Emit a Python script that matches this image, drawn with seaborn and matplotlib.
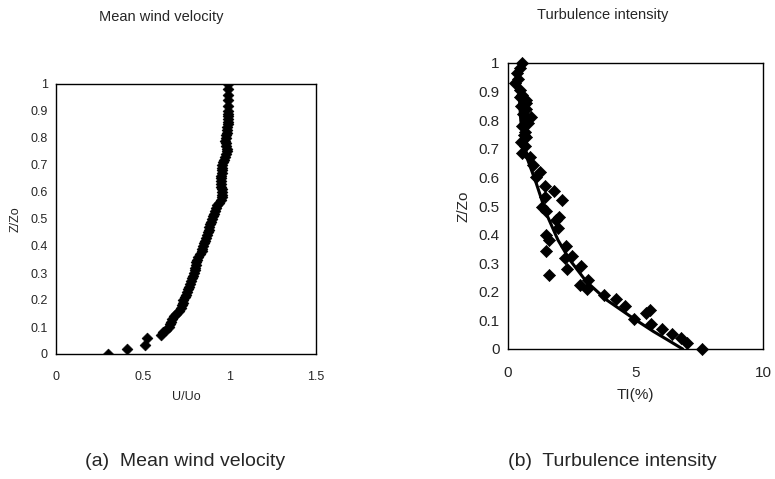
import pandas as pd
import numpy as np
import matplotlib
matplotlib.use("Agg")
import matplotlib.pyplot as plt
import seaborn as sns

# Mean wind velocity profile (U/Uo vs Z/Zo)
u_ratio = [0.30, 0.41, 0.515, 0.525,
           0.605, 0.62, 0.635, 0.65, 0.66, 0.665, 0.67, 0.68, 0.695, 0.71,
           0.72, 0.725, 0.73, 0.735, 0.745, 0.75, 0.755, 0.76, 0.765, 0.775,
           0.78, 0.785, 0.79, 0.795, 0.80, 0.80, 0.805, 0.81, 0.815, 0.82,
           0.83, 0.84, 0.845, 0.85, 0.855, 0.86, 0.865, 0.87, 0.875, 0.88,
           0.885, 0.89, 0.895, 0.90, 0.905, 0.91, 0.92, 0.925, 0.93, 0.94,
           0.95, 0.96, 0.955, 0.955, 0.955, 0.95, 0.95, 0.95, 0.95, 0.95,
           0.955, 0.955, 0.955, 0.96, 0.965, 0.97, 0.975, 0.98, 0.985, 0.985,
           0.98, 0.98, 0.975, 0.98, 0.98, 0.985, 0.985, 0.985, 0.99, 0.99,
           0.99, 0.995, 0.995, 0.995, 0.995, 0.995, 0.995, 0.995, 0.995]
z_u = [0.0, 0.02, 0.035, 0.06,
       0.07, 0.08, 0.09, 0.10, 0.11, 0.12, 0.13, 0.14, 0.15, 0.16,
       0.17, 0.18, 0.19, 0.20, 0.21, 0.22, 0.23, 0.24, 0.25, 0.26,
       0.27, 0.28, 0.29, 0.30, 0.31, 0.32, 0.33, 0.34, 0.35, 0.36,
       0.37, 0.38, 0.39, 0.40, 0.41, 0.42, 0.43, 0.44, 0.45, 0.46,
       0.47, 0.48, 0.49, 0.50, 0.51, 0.52, 0.53, 0.54, 0.55, 0.56,
       0.57, 0.58, 0.59, 0.60, 0.61, 0.62, 0.63, 0.64, 0.65, 0.66,
       0.67, 0.68, 0.69, 0.70, 0.71, 0.72, 0.73, 0.74, 0.75, 0.76,
       0.77, 0.78, 0.79, 0.80, 0.81, 0.82, 0.83, 0.84, 0.85, 0.86,
       0.87, 0.88, 0.89, 0.90, 0.92, 0.94, 0.96, 0.98, 1.00]

# Turbulence intensity measurements (TI % vs Z/Zo)
ti_meas = [7.6, 7.02, 6.77, 6.44, 6.04, 5.62, 5.58, 5.42, 4.94, 4.58,
           4.25, 3.76, 3.14, 3.10, 2.81, 2.85, 2.52, 2.25, 2.29, 2.33,
           1.61, 1.50, 1.59, 1.48, 1.96, 1.90, 2.00, 2.12, 1.79, 1.50,
           1.35, 1.46, 1.44, 1.24, 1.08, 0.98, 0.85, 0.56, 0.52, 0.72,
           0.65, 0.56, 0.92, 0.72, 0.72, 0.52, 0.69, 0.56, 0.46, 0.26,
           0.39, 0.35, 0.46, 0.56, 0.60, 0.80, 0.70, 0.62, 0.48, 0.66]
z_ti = [0.0, 0.02, 0.038, 0.053, 0.07, 0.088, 0.137, 0.126, 0.105, 0.15,
        0.174, 0.19, 0.242, 0.209, 0.224, 0.29, 0.326, 0.317, 0.36, 0.279,
        0.259, 0.344, 0.381, 0.399, 0.422, 0.451, 0.463, 0.521, 0.553, 0.484,
        0.498, 0.53, 0.57, 0.62, 0.60, 0.643, 0.67, 0.686, 0.724, 0.742,
        0.76, 0.78, 0.81, 0.80, 0.84, 0.849, 0.872, 0.887, 0.905, 0.93,
        0.945, 0.965, 0.984, 1.0, 0.82, 0.79, 0.86, 0.75, 0.88, 0.71]

# Fitted turbulence intensity curve
ti_fit = [6.85, 6.2, 5.69, 4.9, 3.86, 3.07, 2.42, 1.96, 1.50, 1.11, 0.78,
          0.59, 0.50, 0.46, 0.43, 0.45, 0.50]
z_fit = [0.0, 0.035, 0.062, 0.108, 0.172, 0.236, 0.312, 0.381, 0.474, 0.579,
         0.66, 0.742, 0.80, 0.858, 0.94, 0.97, 1.0]

df_u = pd.DataFrame({"U/Uo": u_ratio, "Z/Zo": z_u})
df_ti = pd.DataFrame({"TI(%)": ti_meas, "Z/Zo": z_ti})
df_fit = pd.DataFrame({"TI(%)": ti_fit, "Z/Zo": z_fit})

sns.set_style("white")
plt.rcParams['font.family'] = ['Liberation Sans', 'DejaVu Sans']

fig = plt.figure(figsize=(7.75, 4.79), dpi=100)
ax1 = fig.add_axes([56 / 775, (479 - 354) / 479, 260 / 775, 270 / 479])
ax2 = fig.add_axes([508 / 775, (479 - 349) / 479, 255 / 775, 286 / 479])

sns.scatterplot(data=df_u, x="U/Uo", y="Z/Zo", ax=ax1, marker="D", s=30,
                color="black", edgecolor="black", linewidth=0.5, zorder=3)
sns.lineplot(data=df_fit, x="TI(%)", y="Z/Zo", ax=ax2, color="black",
             linewidth=2.2, sort=False, estimator=None, zorder=2)
sns.scatterplot(data=df_ti, x="TI(%)", y="Z/Zo", ax=ax2, marker="D", s=38,
                color="black", edgecolor="black", linewidth=0.5, zorder=3,
                clip_on=False)

yt = np.round(np.arange(0, 1.01, 0.1), 1)
ylabels = ["0"] + [f"{v:.1f}" for v in yt[1:-1]] + ["1"]
panels = [(ax1, [0, 0.5, 1, 1.5], ["0", "0.5", "1", "1.5"], "U/Uo", 9),
          (ax2, [0, 5, 10], ["0", "5", "10"], "TI(%)", 11)]
for ax, xt, xl, xlab, fs in panels:
    ax.set_xlim(xt[0], xt[-1])
    ax.set_ylim(0, 1)
    ax.set_xticks(xt)
    ax.set_xticklabels(xl)
    ax.set_yticks(yt)
    ax.set_yticklabels(ylabels)
    ax.tick_params(length=0, labelsize=fs, pad=6)
    ax.tick_params(axis="x", pad=12)
    ax.set_xlabel(xlab, fontsize=fs, labelpad=6)
    ax.set_ylabel("Z/Zo", fontsize=fs, labelpad=6)
    for sp in ax.spines.values():
        sp.set_color("black")
        sp.set_linewidth(1.0)

fig.text(161 / 775, 1 - 17 / 479, "Mean wind velocity", ha="center", va="center", fontsize=10.5)
fig.text(603 / 775, 1 - 15 / 479, "Turbulence intensity", ha="center", va="center", fontsize=10.5)
fig.text(185 / 775, 1 - 462 / 479, "(a)  Mean wind velocity", ha="center", va="center", fontsize=14)
fig.text(612 / 775, 1 - 461 / 479, "(b)  Turbulence intensity", ha="center", va="center", fontsize=14)

fig.savefig("out.png", dpi=100)
